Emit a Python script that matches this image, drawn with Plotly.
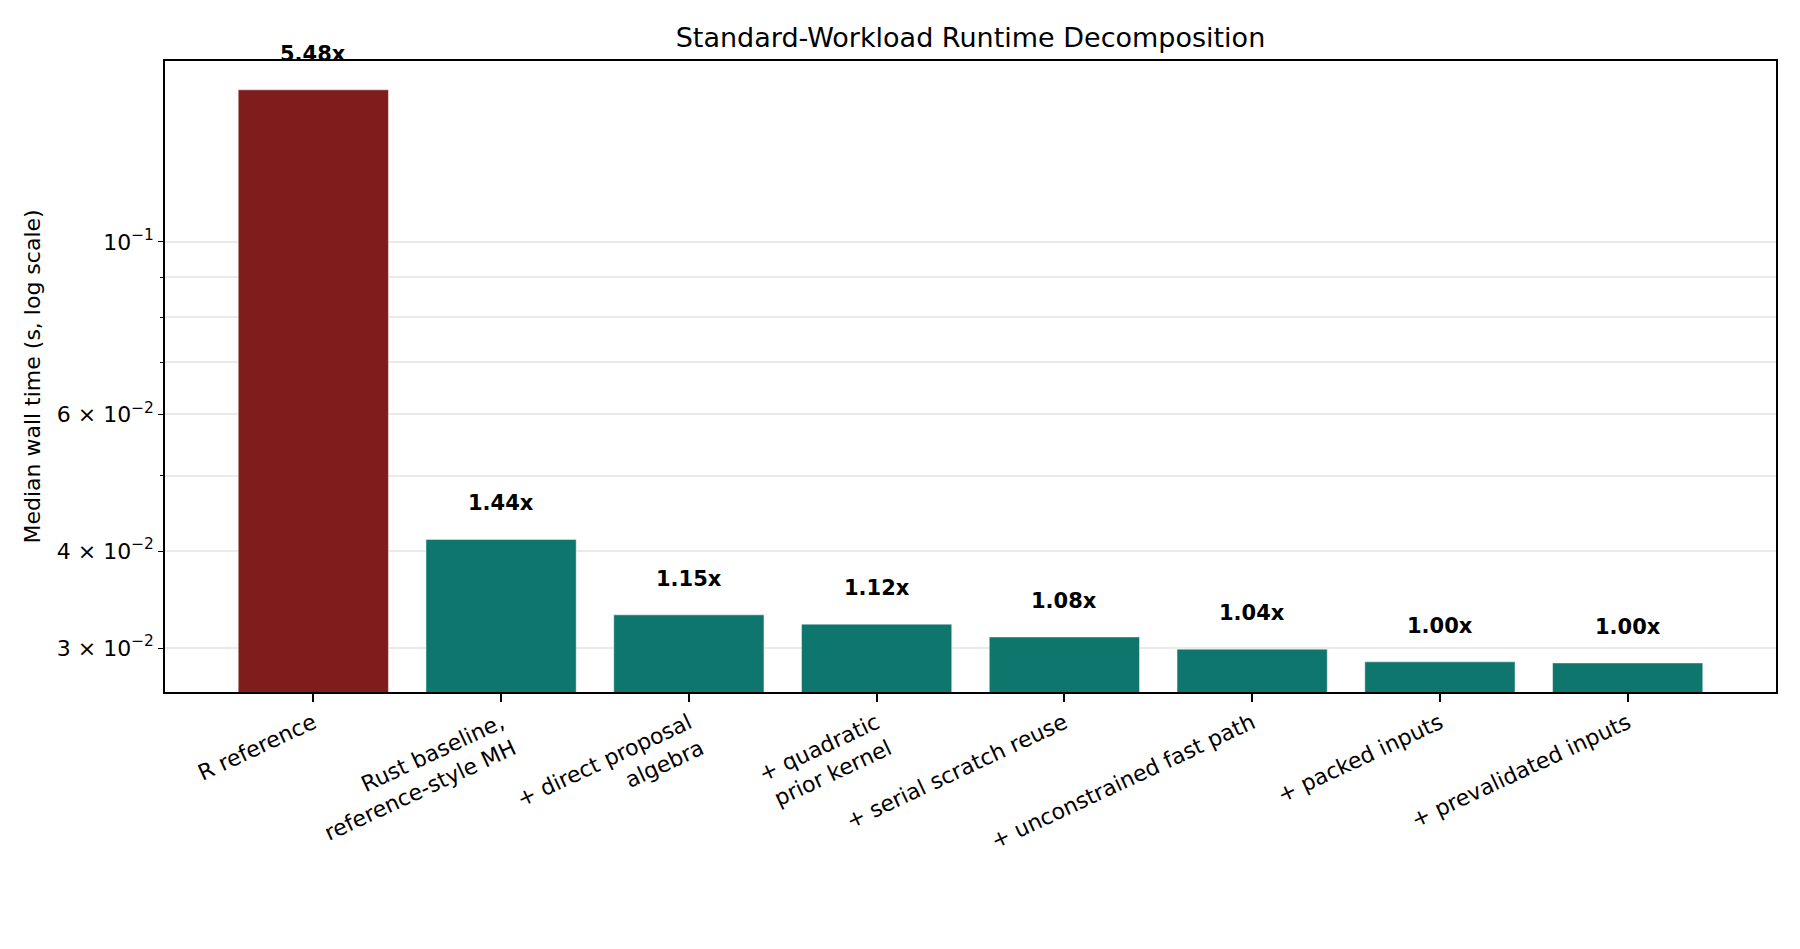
import numpy as np
import plotly.graph_objects as go

# median wall time per variant (s)
variants = [
    "R reference",
    "Rust baseline,<br>reference-style MH",
    "+ direct proposal<br>algebra",
    "+ quadratic<br>prior kernel",
    "+ serial scratch reuse",
    "+ unconstrained fast path",
    "+ packed inputs",
    "+ prevalidated inputs",
]
median_s = [0.1570, 0.0414, 0.0331, 0.0322, 0.0310, 0.0299, 0.0288, 0.0287]
speed_labels = ["5.48x", "1.44x", "1.15x", "1.12x", "1.08x", "1.04x", "1.00x", "1.00x"]

ytick_vals = [0.03, 0.04, 0.06, 0.1]
ytick_text = ["3 × 10<sup>−2</sup>", "4 × 10<sup>−2</sup>", "6 × 10<sup>−2</sup>", "10<sup>−1</sup>"]
yminor_vals = [0.05, 0.07, 0.08, 0.09]

red = "#7f1d1d"
teal = "#0f766e"
colors = [red] + [teal] * (len(variants) - 1)
font = "DejaVu Sans"
grid = "rgba(205,205,205,0.42)"

# page body has an 8px margin, so the figure is shrunk by that on each side
W, H, pad = 1800, 949, 8

fig = go.Figure()
fig.add_trace(go.Bar(
    x=list(range(len(variants))),
    y=median_s,
    width=0.8,
    marker=dict(color=colors, line=dict(color="rgba(255,255,255,0.45)", width=1)),
    hoverinfo="skip",
    showlegend=False,
))

for i, (v, lab) in enumerate(zip(median_s, speed_labels)):
    fig.add_annotation(
        x=i, y=np.log10(v), text="<b>%s</b>" % lab, showarrow=False,
        yanchor="bottom", yshift=22,
        font=dict(family=font, size=21, color="black"),
    )

fig.update_layout(
    width=W - 2 * pad, height=H - 2 * pad,
    margin=dict(l=165 - pad, r=24 - pad, t=61 - pad, b=257 - pad),
    paper_bgcolor="white", plot_bgcolor="white",
    font=dict(family=font, size=22, color="black"),
    title=dict(text="Standard-Workload Runtime Decomposition", x=0.5, xanchor="center",
               xref="paper", y=1 - (38 - pad) / (H - 2 * pad), yanchor="middle",
               font=dict(size=27)),
)

fig.update_xaxes(
    range=[-0.79, 7.79],
    tickvals=list(range(len(variants))), ticktext=variants,
    tickangle=-25, ticks="outside", ticklen=8, tickwidth=1.5, tickcolor="black",
    showline=True, linecolor="black", linewidth=1.5, mirror=True,
    showgrid=False, zeroline=False,
    tickfont=dict(size=22),
)

fig.update_yaxes(
    type="log", range=[-1.5795, -0.767],
    tickvals=ytick_vals, ticktext=ytick_text,
    ticks="outside", ticklen=5, tickwidth=1.2, tickcolor="black",
    showline=True, linecolor="black", linewidth=1.5, mirror=True,
    showgrid=True, gridcolor=grid, gridwidth=1.5,
    minor=dict(tickvals=yminor_vals, ticks="outside", ticklen=3, tickcolor="black",
               showgrid=True, gridcolor=grid, gridwidth=1.5),
    layer="above traces",
    zeroline=False,
    title=dict(text="Median wall time (s, log scale)", standoff=10, font=dict(size=22)),
    tickfont=dict(size=22),
)

fig.write_html("out.html")
